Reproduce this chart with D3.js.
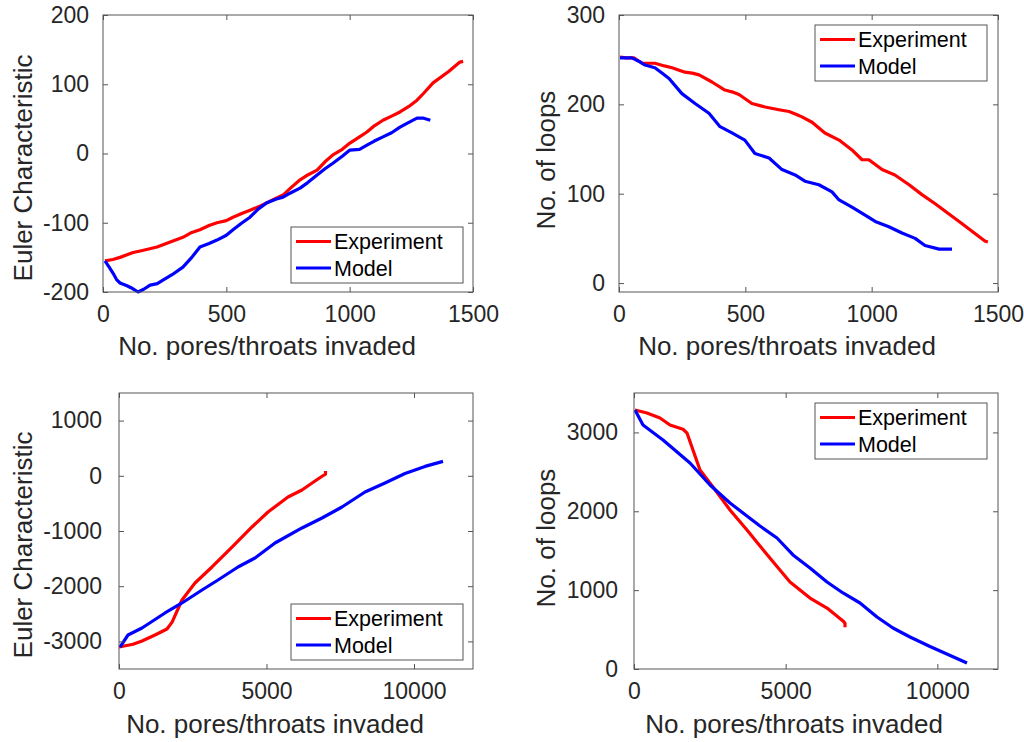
<html>
<head>
<meta charset="utf-8">
<title>Euler characteristic and loops</title>
<style>
  body { margin: 0; background: #fff; }
  svg text { font-family: "Liberation Sans", Arial, sans-serif; }
</style>
</head>
<body>
<script src="https://cdn.jsdelivr.net/npm/d3@7"></script>
<script>
// ---- data ----
// top-left: Euler characteristic, small network
var eulerSmallExpX = [8, 40, 69, 100, 122, 160, 219, 270, 324, 360, 393, 430, 462, 500, 527, 560, 596, 630, 665, 700, 730, 760, 799, 830, 868, 900, 932, 970, 1001, 1040, 1070, 1100, 1135, 1170, 1204, 1240, 1273, 1300, 1338, 1400, 1447, 1460];
var eulerSmallExpY = [-155, -153, -150, -146, -143, -140, -135, -128, -121, -114, -110, -104, -100, -97, -92, -87, -82, -77, -71, -65, -60, -50, -38, -31, -24, -12, -2, 6, 15, 24, 31, 40, 48, 54, 60, 68, 77, 87, 102, 118, 132, 133];
var eulerSmallModX = [8, 25, 41, 55, 69, 97, 120, 142, 165, 191, 220, 243, 280, 324, 360, 393, 430, 462, 500, 527, 560, 596, 630, 665, 700, 730, 760, 799, 830, 868, 900, 932, 970, 1001, 1040, 1070, 1100, 1135, 1170, 1204, 1240, 1273, 1300, 1327];
var eulerSmallModY = [-155, -164, -173, -182, -187, -191, -195, -200, -196, -190, -188, -183, -175, -164, -150, -135, -130, -125, -118, -110, -101, -92, -80, -71, -66, -63, -57, -50, -42, -31, -22, -14, -4, 5, 6, 12, 18, 24, 30, 38, 45, 51, 51, 48];

// top-right: number of loops, small network
var loopsSmallExpX = [4, 30, 59, 91, 120, 142, 180, 210, 261, 290, 317, 368, 419, 447, 475, 526, 578, 633, 673, 700, 724, 764, 815, 871, 922, 962, 989, 1041, 1092, 1148, 1199, 1250, 1350, 1448, 1460];
var loopsSmallExpY = [253, 252, 252, 246, 246, 246, 243, 241, 236, 235, 233, 225, 216, 214, 211, 201, 197, 194, 192, 189, 186, 180, 168, 160, 149, 138, 138, 127, 121, 110, 99, 89, 68, 47, 46];
var loopsSmallModX = [4, 51, 80, 103, 142, 170, 198, 249, 301, 356, 400, 447, 498, 538, 594, 645, 697, 736, 791, 843, 871, 922, 974, 1014, 1068, 1120, 1172, 1211, 1267, 1318];
var loopsSmallModY = [252, 252, 248, 244, 241, 235, 229, 212, 201, 190, 175, 168, 160, 145, 140, 127, 121, 114, 110, 102, 93, 85, 76, 69, 63, 56, 50, 42, 38, 38];

// bottom-left: Euler characteristic, large network
var eulerLargeExpX = [0, 475, 780, 1220, 1627, 1800, 2136, 2576, 3153, 3831, 4508, 5051, 5729, 6203, 6644, 6949, 7000, 7000];
var eulerLargeExpY = [-3102, -3052, -2993, -2884, -2775, -2650, -2250, -1942, -1652, -1290, -927, -656, -384, -257, -94, 14, 30, 87];
var eulerLargeModX = [34, 305, 780, 1559, 2136, 2814, 3356, 4034, 4610, 5288, 6203, 6881, 7559, 8339, 9017, 9695, 10373, 10983];
var eulerLargeModY = [-3102, -2884, -2757, -2485, -2304, -2069, -1888, -1652, -1489, -1217, -945, -764, -565, -293, -130, 42, 170, 261];

// bottom-right: number of loops, large network
var loopsLargeExpX = [33, 428, 857, 1187, 1615, 1750, 2176, 2604, 3165, 3725, 4154, 4714, 5143, 5802, 6363, 6890, 6956, 6956];
var loopsLargeExpY = [3284, 3246, 3183, 3094, 3040, 2990, 2524, 2308, 2016, 1763, 1560, 1300, 1103, 900, 773, 610, 580, 530];
var loopsLargeModX = [33, 297, 956, 1846, 2506, 3165, 4154, 4714, 5242, 5802, 6363, 6890, 7451, 8011, 8538, 9099, 9758, 10978];
var loopsLargeModY = [3284, 3094, 2904, 2612, 2333, 2105, 1813, 1661, 1446, 1281, 1103, 964, 837, 659, 520, 406, 285, 76];

// tick labels
var ticksXSmall = [0, 500, 1000, 1500];
var ticksXLarge = [0, 5000, 10000];
var ticksYEulerSmall = [-200, -100, 0, 100, 200];
var ticksYLoopsSmall = [0, 100, 200, 300];
var ticksYEulerLarge = [-3000, -2000, -1000, 0, 1000];
var ticksYLoopsLarge = [0, 1000, 2000, 3000];

var seriesNames = ["Experiment", "Model"];
var seriesColors = ["#ff0000", "#0000ff"];
var xTitle = "No. pores/throats invaded";

function zip(xs, ys) {
  return xs.map(function(x, i) { return [x, ys[i]]; });
}

// panel layout (pixel boxes)
var panels = [
  { box: [103, 15, 473, 292], xd: [0, 1500], yd: [-200, 200], xt: ticksXSmall, yt: ticksYEulerSmall,
    ytitle: "Euler Characteristic", yl: [32, 168], xl: [267, 355], pad: 14,
    leg: [291, 227], series: [zip(eulerSmallExpX, eulerSmallExpY), zip(eulerSmallModX, eulerSmallModY)] },
  { box: [619, 15, 998, 292], xd: [0, 1500], yd: [-10, 300], xt: ticksXSmall, yt: ticksYLoopsSmall,
    ytitle: "No. of loops", yl: [555, 160], xl: [787, 355], pad: 14,
    leg: [815, 25], series: [zip(loopsSmallExpX, loopsSmallExpY), zip(loopsSmallModX, loopsSmallModY)] },
  { box: [119, 393, 473, 669], xd: [0, 12000], yd: [-3500, 1500], xt: ticksXLarge, yt: ticksYEulerLarge,
    ytitle: "Euler Characteristic", yl: [32, 545], xl: [275, 733], pad: 17,
    leg: [291, 604], series: [zip(eulerLargeExpX, eulerLargeExpY), zip(eulerLargeModX, eulerLargeModY)] },
  { box: [634, 393, 998, 669], xd: [0, 12000], yd: [0, 3500], xt: ticksXLarge, yt: ticksYLoopsLarge,
    ytitle: "No. of loops", yl: [555, 538], xl: [794, 733], pad: 16,
    leg: [815, 403], series: [zip(loopsLargeExpX, loopsLargeExpY), zip(loopsLargeModX, loopsLargeModY)] }
];

var svg = d3.select("body").append("svg")
  .attr("width", 1024)
  .attr("height", 742);

// plain hyphen for negatives, like the original
var fmt = function(d) { return String(d); };

panels.forEach(function(p) {
  var x = d3.scaleLinear().domain(p.xd).range([p.box[0], p.box[2]]);
  var y = d3.scaleLinear().domain(p.yd).range([p.box[3], p.box[1]]);
  var g = svg.append("g");

  g.append("rect")
    .attr("x", p.box[0]).attr("y", p.box[1])
    .attr("width", p.box[2] - p.box[0]).attr("height", p.box[3] - p.box[1])
    .attr("fill", "#fff");

  // data lines
  var line = d3.line().x(function(d) { return x(d[0]); }).y(function(d) { return y(d[1]); });
  p.series.forEach(function(s, i) {
    g.append("path")
      .attr("d", line(s))
      .attr("fill", "none")
      .attr("stroke", seriesColors[i])
      .attr("stroke-width", 3.2)
      .attr("stroke-linejoin", "round");
  });

  // axes with inward ticks, mirrored top/right
  var bottom = g.append("g").attr("transform", "translate(0," + p.box[3] + ")")
    .call(d3.axisBottom(x).tickValues(p.xt).tickFormat(fmt).tickSize(-5).tickPadding(13.5));
  var top = g.append("g").attr("transform", "translate(0," + p.box[1] + ")")
    .call(d3.axisTop(x).tickValues(p.xt).tickFormat("").tickSize(-5));
  var left = g.append("g").attr("transform", "translate(" + p.box[0] + ",0)")
    .call(d3.axisLeft(y).tickValues(p.yt).tickFormat(fmt).tickSize(-5).tickPadding(p.pad));
  var right = g.append("g").attr("transform", "translate(" + p.box[2] + ",0)")
    .call(d3.axisRight(y).tickValues(p.yt).tickFormat("").tickSize(-5));
  [bottom, top, left, right].forEach(function(a) {
    a.select(".domain").remove();
    a.selectAll("line").attr("stroke", "#555");
    a.selectAll("text").attr("fill", "#262626").style("font-size", "23px");
  });

  // frame
  g.append("rect")
    .attr("x", p.box[0]).attr("y", p.box[1])
    .attr("width", p.box[2] - p.box[0]).attr("height", p.box[3] - p.box[1])
    .attr("fill", "none").attr("stroke", "#555").attr("stroke-width", 1);

  // axis titles
  g.append("text")
    .attr("x", p.xl[0]).attr("y", p.xl[1])
    .attr("text-anchor", "middle")
    .style("font-size", "26px").attr("fill", "#262626")
    .text(xTitle);
  g.append("text")
    .attr("transform", "translate(" + p.yl[0] + "," + p.yl[1] + ") rotate(-90)")
    .attr("text-anchor", "middle")
    .style("font-size", "26px").attr("fill", "#262626")
    .text(p.ytitle);

  // legend
  var lg = g.append("g").attr("transform", "translate(" + p.leg[0] + "," + p.leg[1] + ")");
  lg.append("rect")
    .attr("width", 172).attr("height", 56)
    .attr("fill", "#fff").attr("stroke", "#555").attr("stroke-width", 1);
  seriesNames.forEach(function(name, i) {
    var ly = 14.5 + i * 26.5;
    lg.append("line")
      .attr("x1", 5).attr("x2", 40).attr("y1", ly).attr("y2", ly)
      .attr("stroke", seriesColors[i]).attr("stroke-width", 3.2);
    lg.append("text")
      .attr("x", 43).attr("y", ly).attr("dy", "0.35em")
      .style("font-size", "21.5px").attr("fill", "#000")
      .text(name);
  });
});
</script>
</body>
</html>
